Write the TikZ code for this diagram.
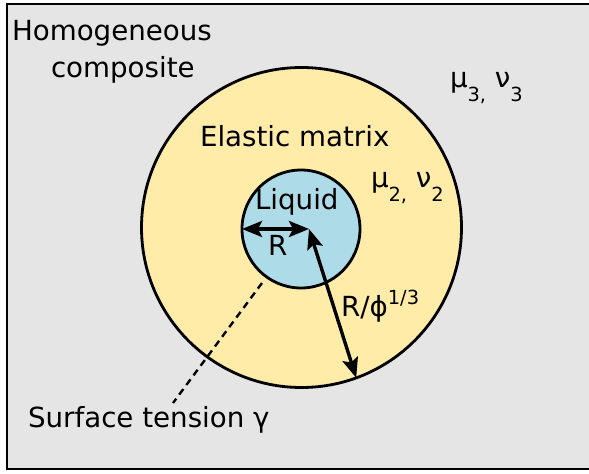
\documentclass[tikz,border=0pt]{standalone}
\usepackage{fontspec}
\setmainfont{DejaVu Sans}
\usetikzlibrary{arrows.meta}
\definecolor{bggrey}{HTML}{E5E5E5}
\definecolor{matyellow}{HTML}{FFECA9}
\definecolor{liqblue}{HTML}{ADDBE7}
\newcommand{\mysub}[1]{\raisebox{-0.5em}{\fontsize{19.5}{19.5}\selectfont #1}}
\newcommand{\mysup}[1]{\raisebox{0.42em}{\fontsize{19.5}{19.5}\selectfont #1}}
\begin{document}
\begin{tikzpicture}[x=1bp,y=-1bp,
  lbl/.style={font=\fontsize{27.8}{34}\selectfont, inner sep=0pt, outer sep=0pt, anchor=base west},
  disc/.style={circle, draw=black, line width=2.8bp, inner sep=0pt, outer sep=0pt},
  dimarrow/.style={line width=3.4bp, {Stealth[length=20bp,width=16bp,inset=4bp]}-{Stealth[length=20bp,width=16bp,inset=4bp]}},
  tensionline/.style={line width=2.4bp, dash pattern=on 7bp off 5bp}]
\useasboundingbox (0,0) rectangle (589,474);
\fill[white] (0,0) rectangle (589,474);
\begin{scope}
\clip (0,0) rectangle (589,474);
\draw[fill=bggrey, line width=2.6bp] (7,4) rectangle (640,469);
\end{scope}
\node[disc, fill=matyellow, minimum size=320bp] (outer) at (301.5,227.5) {};
\node[disc, fill=liqblue, minimum size=118bp] (inner) at (301,229) {};
\coordinate (c) at (309,229);
\draw[dimarrow] (inner.west) -- (c);
\draw[dimarrow] (c) -- (outer.-70);
\coordinate (ds) at (262,283);
\coordinate (de) at (173,403);
\draw[tensionline] (ds) -- (de);
\node[lbl] (homog1) at (12,41) {Homogeneous};
\node[lbl] (homog2) at (51,78) {composite};
\node[lbl] (mu3) at (450,88) {μ\mysub{3,} ν\mysub{3}};
\node[lbl] (elastic) at (200,147) {Elastic matrix};
\node[lbl] (mu2) at (371,188) {μ\mysub{2,} ν\mysub{2}};
\node[lbl] (liquid) at (255,210) {Liquid};
\node[lbl] (rlab) at (268,256) {R};
\node[lbl] (rphi) at (341,316) {R/ϕ\mysup{1/3}};
\node[lbl] (surf) at (28,427) {Surface tension γ};
\end{tikzpicture}
\end{document}
